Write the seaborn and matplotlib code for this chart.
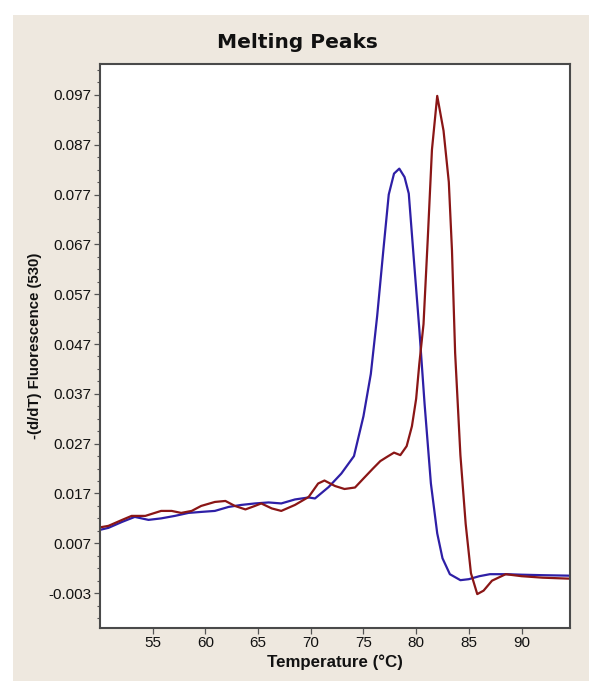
import numpy as np
import pandas as pd
import matplotlib
matplotlib.use("Agg")
import matplotlib.pyplot as plt
from matplotlib.patches import Rectangle
from matplotlib.ticker import AutoMinorLocator
import seaborn as sns

# ---- data ----
temp_blue = [50.0, 50.8, 52.1, 53.3, 54.6, 55.8, 57.1, 58.4, 59.6, 60.9, 62.2, 63.4,
             64.7, 66.0, 67.2, 68.5, 69.8, 70.4, 71.7, 72.9, 74.1, 75.0, 75.7, 76.3,
             76.9, 77.4, 77.9, 78.4, 78.9, 79.3, 79.8, 80.3, 80.8, 81.4, 82.0, 82.5,
             83.2, 84.2, 85.0, 86.0, 87.0, 88.6, 90.0, 92.0, 94.6]
deriv_blue = [0.0097, 0.0101, 0.0113, 0.0123, 0.0117, 0.0120, 0.0125, 0.0131, 0.0133,
              0.0135, 0.0143, 0.0147, 0.0150, 0.0152, 0.0150, 0.0158, 0.0162, 0.0160,
              0.0183, 0.0210, 0.0245, 0.0325, 0.0410, 0.0526, 0.0661, 0.0770, 0.0812,
              0.0822, 0.0805, 0.0772, 0.0635, 0.0500, 0.0350, 0.0190, 0.0090, 0.0040,
              0.0008, -0.0004, -0.0002, 0.0004, 0.0008, 0.0008, 0.0007, 0.0006, 0.0005]

temp_red = [50.0, 50.8, 52.1, 53.0, 54.3, 55.2, 55.8, 56.8, 57.7, 58.7, 59.6, 60.9,
            61.9, 62.8, 63.8, 64.7, 65.3, 66.3, 67.2, 68.5, 69.8, 70.7, 71.3, 72.3,
            73.2, 74.2, 75.0, 75.9, 76.6, 77.2, 77.9, 78.5, 79.1, 79.6, 80.0, 80.3,
            80.7, 81.1, 81.5, 82.0, 82.6, 83.1, 83.4, 83.7, 84.2, 84.7, 85.2, 85.8,
            86.4, 87.2, 88.5, 90.0, 92.0, 94.6]
deriv_red = [0.0102, 0.0105, 0.0117, 0.0125, 0.0125, 0.0131, 0.0135, 0.0135, 0.0131,
             0.0135, 0.0145, 0.0153, 0.0155, 0.0145, 0.0138, 0.0145, 0.0150, 0.0140,
             0.0135, 0.0147, 0.0163, 0.0190, 0.0196, 0.0185, 0.0179, 0.0182, 0.0200,
             0.0220, 0.0235, 0.0243, 0.0252, 0.0247, 0.0265, 0.0305, 0.0360, 0.0430,
             0.0510, 0.0680, 0.0860, 0.0968, 0.0898, 0.0795, 0.0658, 0.0452, 0.0247,
             0.0109, 0.0010, -0.0032, -0.0025, -0.0005, 0.0008, 0.0004, 0.0001, -0.0001]

y_ticks = [-0.003, 0.007, 0.017, 0.027, 0.037, 0.047, 0.057, 0.067, 0.077, 0.087, 0.097]
x_ticks = [55, 60, 65, 70, 75, 80, 85, 90]

df = pd.concat([
    pd.DataFrame({"Temperature": temp_blue, "Deriv": deriv_blue, "Sample": "A"}),
    pd.DataFrame({"Temperature": temp_red, "Deriv": deriv_red, "Sample": "B"}),
], ignore_index=True)

sns.set_theme(style="ticks")
plt.rcParams["font.family"] = ["Liberation Sans", "DejaVu Sans"]

fig = plt.figure(figsize=(6.0, 6.94), dpi=100, facecolor="white")
panel_col = "#EEE8DF"
fig.patches.append(Rectangle((13 / 600, 1 - 681 / 694), 576 / 600, 666 / 694,
                             transform=fig.transFigure, facecolor=panel_col,
                             edgecolor="none", zorder=-10))

ax = fig.add_axes([100 / 600, 1 - 628 / 694, 470 / 600, 564 / 694])
ax.set_zorder(5)
ax.set_facecolor("white")

sns.lineplot(data=df, x="Temperature", y="Deriv", hue="Sample",
             palette={"A": "#2E1FA6", "B": "#8A1616"}, linewidth=1.6,
             legend=False, ax=ax, sort=False, estimator=None)

ax.set_xlim(50, 94.6)
ax.set_ylim(-0.0100, 0.1032)
ax.set_xticks(x_ticks)
ax.set_xticklabels([str(t) for t in x_ticks])
ax.set_yticks(y_ticks)
ax.set_yticklabels([f"{t:.3f}" for t in y_ticks])
ax.yaxis.set_minor_locator(AutoMinorLocator(4))

for s in ax.spines.values():
    s.set_visible(True)
    s.set_color("#4a4a4a")
    s.set_linewidth(1.5)

ax.tick_params(axis="both", which="major", length=4, width=0.9, color="#555555",
               labelsize=11, pad=2, labelcolor="#111111")
ax.tick_params(axis="y", which="minor", length=2.5, width=0.8, color="#555555")

ax.set_xlabel("Temperature (°C)", fontsize=12.2, fontweight="bold", labelpad=3,
              color="#111111")
ax.set_ylabel("-(d/dT) Fluorescence (530)", fontsize=10.8, fontweight="bold",
              labelpad=5, color="#111111")

fig.text(0.495, 1 - 43 / 694, "Melting Peaks", ha="center", va="center",
         fontsize=14.5, fontweight="bold", family=["DejaVu Sans"], color="#111111")

fig.savefig("out.png", dpi=100, facecolor="white")
